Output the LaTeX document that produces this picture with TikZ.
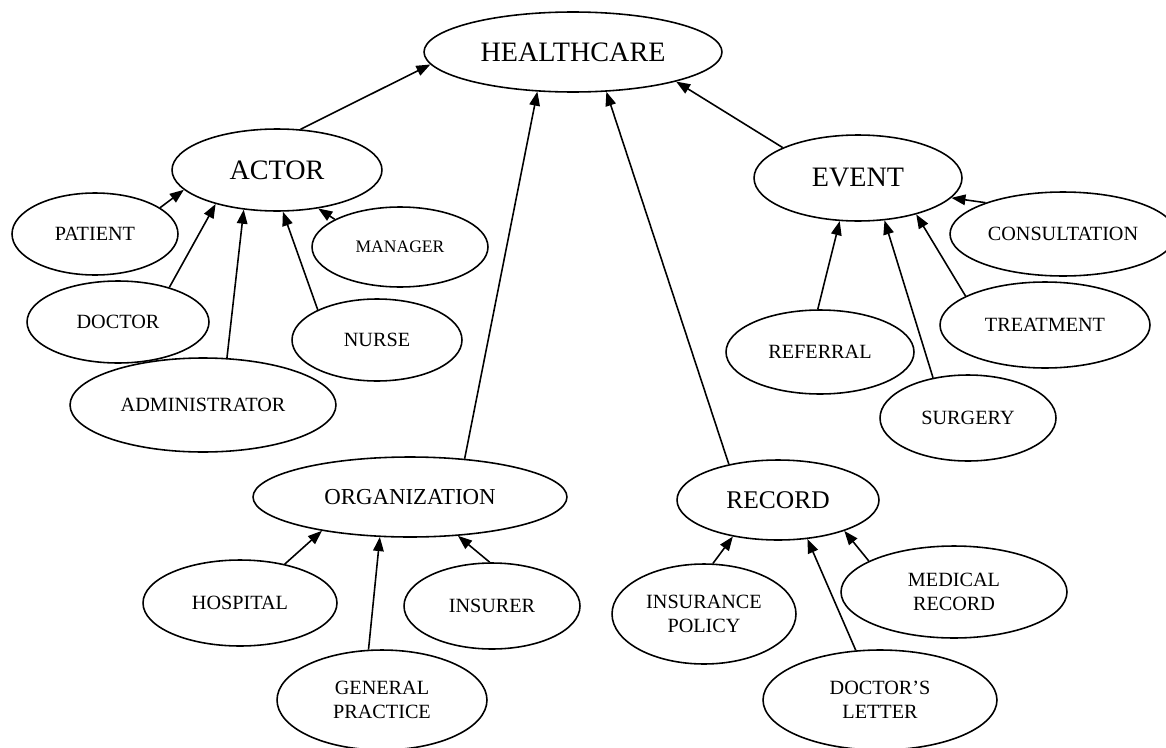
\documentclass[tikz,border=0pt]{standalone}
\usepackage{fontspec}
\setmainfont{Liberation Serif}
\usetikzlibrary{arrows.meta,shapes.geometric}

\begin{document}
\begin{tikzpicture}[x=0.02cm, y=-0.02cm,
		concept/.style={draw, ellipse, line width=0.9pt, inner sep=0pt, align=center},
		big/.style={font=\fontsize{16}{18}\selectfont},
		leaf/.style={font=\fontsize{11.5}{13.5}\selectfont},
		link/.style={-{Triangle[length=8pt, width=6pt]}, line width=0.9pt}]
			\useasboundingbox (0, 0) rectangle (1166, 747);

			\node[concept, big, minimum width=5.96cm, minimum height=1.6cm] (healthcare) at (573, 52) {HEALTHCARE};

			\node[concept, big, minimum width=4.2cm, minimum height=1.64cm] (actor) at (277, 170) {ACTOR};
			\node[concept, leaf, minimum width=3.32cm, minimum height=1.64cm] (patient) at (95, 234) {PATIENT};
			\node[concept, font=\fontsize{10}{12}\selectfont, minimum width=3.52cm, minimum height=1.6cm] (manager) at (400, 247) {MANAGER};
			\node[concept, leaf, minimum width=3.64cm, minimum height=1.64cm] (doctor) at (118, 322) {DOCTOR};
			\node[concept, leaf, minimum width=3.4cm, minimum height=1.64cm] (nurse) at (377, 340) {NURSE};
			\node[concept, leaf, minimum width=5.32cm, minimum height=1.88cm] (admin) at (203, 405) {ADMINISTRATOR};

			\node[concept, big, minimum width=4.16cm, minimum height=1.72cm] (event) at (858, 178) {EVENT};
			\node[concept, leaf, minimum width=4.52cm, minimum height=1.68cm] (consultation) at (1063, 234) {CONSULTATION};
			\node[concept, leaf, minimum width=3.76cm, minimum height=1.68cm] (referral) at (820, 352) {REFERRAL};
			\node[concept, leaf, minimum width=4.2cm, minimum height=1.72cm] (treatment) at (1045, 325) {TREATMENT};
			\node[concept, leaf, minimum width=3.52cm, minimum height=1.72cm] (surgery) at (968, 418) {SURGERY};

			\node[concept, font=\fontsize{13}{15}\selectfont, minimum width=6.28cm, minimum height=1.6cm] (organization) at (410, 497) {ORGANIZATION};
			\node[concept, leaf, minimum width=3.88cm, minimum height=1.72cm] (hospital) at (240, 603) {HOSPITAL};
			\node[concept, leaf, minimum width=3.52cm, minimum height=1.72cm] (insurer) at (492, 606) {INSURER};
			\node[concept, leaf, minimum width=4.2cm, minimum height=2cm] (practice) at (382, 700) {GENERAL\\PRACTICE};

			\node[concept, font=\fontsize{14.5}{16}\selectfont, minimum width=4.04cm, minimum height=1.6cm] (record) at (778, 500) {RECORD};
			\node[concept, leaf, minimum width=3.68cm, minimum height=2cm] (policy) at (704, 614) {INSURANCE\\POLICY};
			\node[concept, leaf, minimum width=4.52cm, minimum height=1.84cm] (medical) at (954, 592) {MEDICAL\\RECORD};
			\node[concept, leaf, minimum width=4.68cm, minimum height=2cm] (letter) at (880, 700) {DOCTOR’S\\LETTER};

			\draw[link] (actor.60) -- (healthcare.185);
			\draw[link] (organization.35) -- (healthcare.228);
			\draw[link] (record.144) -- (healthcare.310);
			\draw[link] (event.158) -- (healthcare.344);

			\draw[link] (patient.22) -- (actor.192);
			\draw[link] (doctor.34) -- (actor.209);
			\draw[link] (admin.63) -- (actor.230);
			\draw[link] (nurse.153) -- (actor.278);
			\draw[link] (manager.157) -- (actor.317);

			\draw[link] (referral.93) -- (event.247);
			\draw[link] (surgery.131) -- (event.302);
			\draw[link] (treatment.160) -- (event.328);
			\draw[link] (consultation.158) -- (event.348);

			\draw[link] (hospital.41) -- (organization.201);
			\draw[link] (practice.105) -- (organization.233);
			\draw[link] (insurer.93) -- (organization.321);

			\draw[link] (policy.80) -- (record.219);
			\draw[link] (letter.116) -- (record.307);
			\draw[link] (medical.160) -- (record.335);
		\end{tikzpicture}
\end{document}
